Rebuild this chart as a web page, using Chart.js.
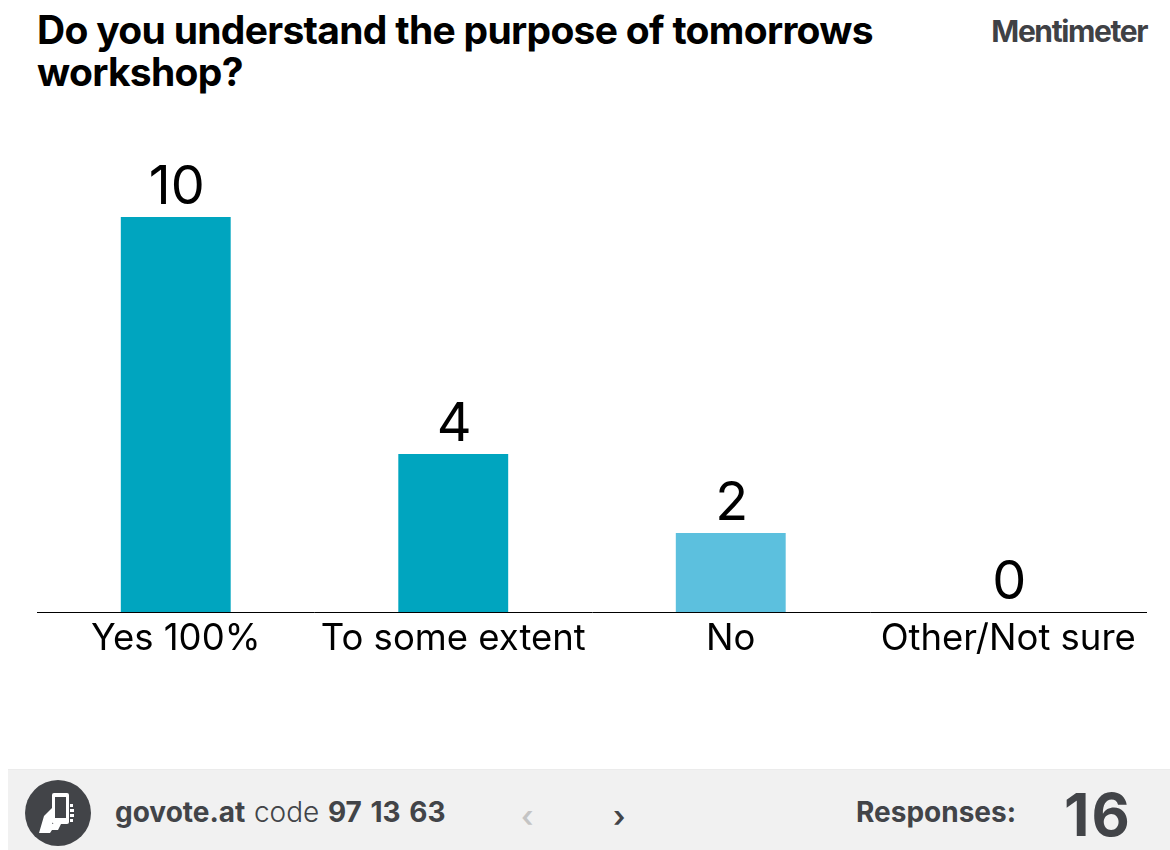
<!DOCTYPE html>
<html>
<head>
<meta charset="utf-8">
<title>Do you understand the purpose of tomorrows workshop?</title>
<script src="https://cdn.jsdelivr.net/npm/chart.js@4/dist/chart.umd.min.js"></script>
<style>
    html, body { margin: 0; padding: 0; background: #fff; overflow: hidden; }
    body { width: 1170px; height: 850px; position: relative; font-family: Inter, sans-serif; }
    .title { position: absolute; left: 37px; top: 9px; width: 900px; margin: 0; font-size: 39px; line-height: 42px; font-weight: 700; letter-spacing: -0.7px; color: #000; }
    .brand { position: absolute; right: 23px; top: 14px; font-size: 30px; line-height: 34px; font-weight: 700; letter-spacing: -1.4px; color: #3f4145; }
    .chart-box { position: absolute; left: 37px; top: 160px; width: 1110px; height: 500px; }
    .footer { position: absolute; left: 8px; top: 769px; width: 1162px; height: 81px; background: #f1f1f1; border-top: 1px solid #ebebeb; box-sizing: border-box; color: #424448; }
    .footer span { position: absolute; white-space: nowrap; }
    .badge { position: absolute; left: 17px; top: 10px; width: 66px; height: 66px; }
    .code { left: 107px; top: 25px; font-size: 28px; line-height: 34px; font-weight: 700; letter-spacing: 0; word-spacing: 2px; }
    .code i { font-style: normal; font-weight: 300; }
    .nav { top: 29px; font-size: 30px; line-height: 34px; font-weight: 600; }
    .responses { left: 848px; top: 25px; font-size: 28px; line-height: 34px; font-weight: 700; letter-spacing: 0; }
    .count { left: 1056px; top: 14px; font-size: 59px; line-height: 62px; font-weight: 700; letter-spacing: 2px; }
</style>
</head>
<body>
<h1 class="title">Do you understand the purpose of tomorrows workshop?</h1>
<div class="brand">Mentimeter</div>
<div class="chart-box"><canvas id="chart" width="1110" height="500"></canvas></div>
<div class="footer">
    <svg class="badge" viewBox="0 0 66 66">
        <circle cx="33" cy="33" r="33" fill="#424448"/>
        <rect x="27" y="13" width="17" height="31" rx="2" fill="#fff"/>
        <rect x="30" y="17" width="11" height="21" fill="#424448"/>
        <path d="M45 24 h3 v3 h-3 z M45 29 h4 v3 h-4 z M45 34 h4 v3 h-4 z M45 39 h3 v3 h-3 z" fill="#fff"/>
        <path d="M14 53 L19 36 L27 28 L27 44 L36 44 L33 50 L27 50 L25 53 Z" fill="#fff"/>
    </svg>
    <span class="code">govote.at <i>code</i> 97 13 63</span>
    <span class="nav" style="left:513px;color:#c4c4c4">‹</span>
    <span class="nav" style="left:605px">›</span>
    <span class="responses">Responses:</span>
    <span class="count">16</span>
</div>
<script>
// Poll results
const categories = ['Yes 100%', 'To some extent', 'No', 'Other/Not sure'];
const votes = [10, 4, 2, 0];
const barColors = ['#00a5bf', '#00a5bf', '#5cc0de', '#5cc0de'];
const yMax = 11.44;

// Vote counts above the bars
const voteLabels = {
    id: 'voteLabels',
    afterDatasetsDraw(chart) {
        const { ctx } = chart;
        const bars = chart.getDatasetMeta(0).data;
        ctx.save();
        ctx.textAlign = 'center';
        ctx.textBaseline = 'alphabetic';
        ctx.font = "400 54px Inter, sans-serif";
        ctx.fillStyle = '#000';
        bars.forEach((bar, i) => {
            ctx.fillText(String(votes[i]), bar.x + 1, bar.y - 13);
        });
        ctx.restore();
    }
};

new Chart(document.getElementById('chart'), {
    type: 'bar',
    data: {
        labels: categories,
        datasets: [{
            data: votes,
            backgroundColor: barColors,
            borderWidth: 0,
            barPercentage: 0.396,
            categoryPercentage: 1
        }]
    },
    options: {
        responsive: false,
        animation: false,
        layout: { padding: 0 },
        plugins: {
            legend: { display: false },
            tooltip: { enabled: false }
        },
        scales: {
            x: {
                afterFit(scale) { scale.height = 48; },
                grid: { display: false, drawTicks: false },
                border: { color: '#000', width: 1 },
                ticks: {
                    color: '#000',
                    padding: 5,
                    maxRotation: 0,
                    autoSkip: false,
                    font: { family: 'Inter, sans-serif', size: 36.5, weight: '400' }
                }
            },
            y: {
                display: false,
                min: 0,
                max: yMax
            }
        }
    },
    plugins: [voteLabels]
});
</script>
</body>
</html>
